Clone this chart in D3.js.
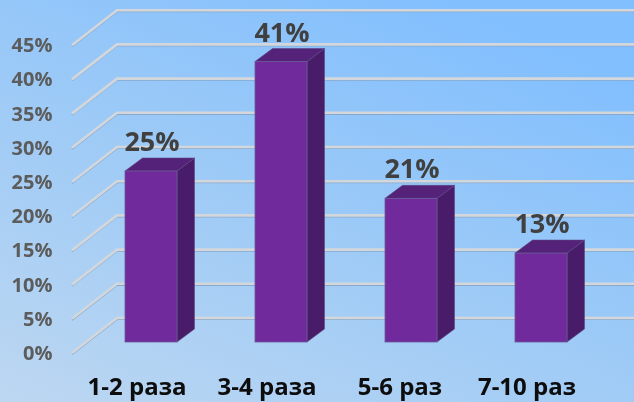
<!DOCTYPE html>
<html><head><meta charset="utf-8">
<script src="https://cdnjs.cloudflare.com/ajax/libs/d3/7.8.5/d3.min.js"></script>
<style>html,body{margin:0;padding:0;background:#9cc8f5}svg{display:block}</style></head>
<body><svg id="c" width="634" height="402"></svg>
<script>
const categories = ["1-2 раза","3-4 раза","5-6 раз","7-10 раз"];
const values = [25,41,21,13];
const ticks = [0,5,10,15,20,25,30,35,40,45];
const W=634,H=402;
const svg=d3.select("#c");
const defs=svg.append("defs");
const bg=defs.append("linearGradient").attr("id","bg").attr("x1","0%").attr("y1","100%").attr("x2","70%").attr("y2","0%");
bg.append("stop").attr("offset","0%").attr("stop-color","#bdd7f1");
bg.append("stop").attr("offset","50%").attr("stop-color","#9fcbf6");
bg.append("stop").attr("offset","100%").attr("stop-color","#82bffe");
const blur=defs.append("filter").attr("id","soft").attr("x","-5%").attr("y","-5%").attr("width","110%").attr("height","110%");
blur.append("feGaussianBlur").attr("stdDeviation",0.45);
svg.append("rect").attr("width",W).attr("height",H).attr("fill","url(#bg)");

const root=svg.append("g").attr("filter","url(#soft)");
const y=d3.scaleLinear().domain([0,45]).range([342,342-45*6.84]);
const x=d3.scaleBand().domain(categories).range([86,606]).paddingInner(0.6).paddingOuter(0.3);
const dx=17.5,dy=13;
const wall={x0:72,x1:117,front:11,back:-24};

const grid=root.append("g");
ticks.forEach(t=>{
  const yf=y(t)+wall.front,yb=y(t)+wall.back;
  const pts=[[wall.x0,yf],[wall.x1,yb],[W,yb]];
  const line=d3.line();
  grid.append("path").attr("d",line(pts.map(p=>[p[0],p[1]+1.3]))).attr("fill","none").attr("stroke","#88a9cc").attr("stroke-width",1.6);
  grid.append("path").attr("d",line(pts)).attr("fill","none").attr("stroke","#d3d7dc").attr("stroke-width",2.6);
});

const bars=root.append("g").selectAll("g").data(values).join("g");
const poly=(a)=>a.map(p=>p.join(",")).join(" ");
bars.each(function(d,i){
  const g=d3.select(this),l=x(categories[i]),r=l+x.bandwidth(),t=y(d),b=y(0);
  g.append("polygon").attr("points",poly([[r,t],[r+dx,t-dy],[r+dx,b-dy],[r,b]])).attr("fill","#4a1f69").attr("stroke","#5a4a80").attr("stroke-width",0.6);
  g.append("polygon").attr("points",poly([[l,t],[l+dx,t-dy],[r+dx,t-dy],[r,t]])).attr("fill","#55207a").attr("stroke","#5a4a80").attr("stroke-width",0.6);
  g.append("rect").attr("x",l).attr("y",t).attr("width",x.bandwidth()).attr("height",b-t).attr("fill","#6f2c9c").attr("stroke","#6a5a9a").attr("stroke-width",0.8);
});

const font="'Open Sans', sans-serif";
root.append("g").selectAll("text").data(ticks).join("text")
  .attr("x",52.5).attr("y",t=>y(t)+18).attr("text-anchor","end")
  .attr("font-family",font).attr("font-weight",700).attr("font-size",20).attr("fill","#5b5b5b")
  .text(t=>t+"%");
root.append("g").selectAll("text").data(values).join("text")
  .attr("x",(d,i)=>x(categories[i])+x.bandwidth()/2+1).attr("y",d=>y(d)-20)
  .attr("text-anchor","middle").attr("font-family",font).attr("font-weight",700).attr("font-size",27).attr("fill","#404040")
  .text(d=>d+"%");
root.append("g").selectAll("text").data(categories).join("text")
  .attr("x",(d,i)=>x(d)+x.bandwidth()/2+(i===2?-11:-14)).attr("y",395)
  .attr("text-anchor","middle").attr("font-family",font).attr("font-weight",700).attr("font-size",24).attr("fill","#0a0a0a")
  .text(d=>d);
</script></body></html>
